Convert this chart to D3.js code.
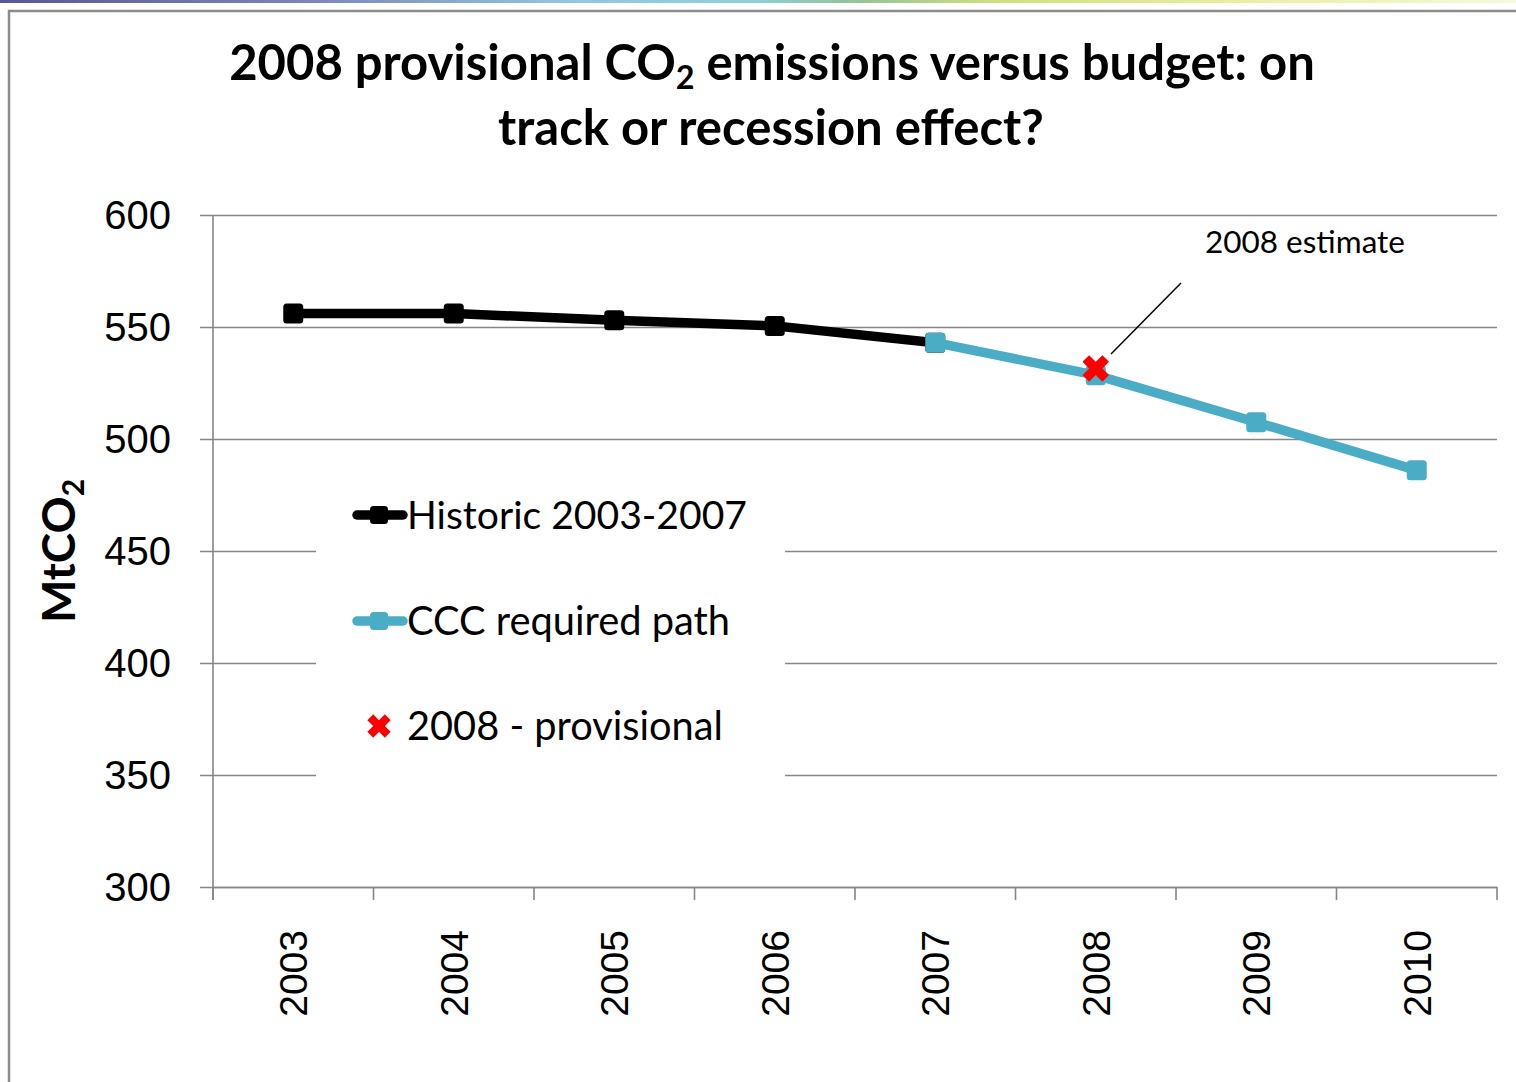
<!DOCTYPE html>
<html>
<head>
<meta charset="utf-8">
<script src="https://cdn.jsdelivr.net/npm/d3@7"></script>
<style>
  html, body { margin: 0; padding: 0; background: #ffffff; }
  svg { display: block; }
</style>
</head>
<body>
<svg id="chart" width="1516" height="1082"></svg>
<script>
// UK CO2 emissions (MtCO2): history, required path and 2008 provisional figure
const years = ["2003", "2004", "2005", "2006", "2007", "2008", "2009", "2010"];
const historicYears = ["2003", "2004", "2005", "2006", "2007"];
const historicValues = [556, 556, 553, 550.5, 543];
const requiredYears = ["2007", "2008", "2009", "2010"];
const requiredValues = [543, 528.5, 507.5, 486];
const provisionalYears = ["2008"];
const provisionalValues = [531.5];
const yTicks = [300, 350, 400, 450, 500, 550, 600];
const seriesNames = ["Historic 2003-2007", "CCC required path", "2008 - provisional"];
const annotationText = "2008 estimate";

const svg = d3.select("#chart");
const W = 1516, H = 1082;
const plot = { left: 213, right: 1497, top: 215, bottom: 887 };
const bodyFont = "Lato, 'Open Sans', sans-serif";
const axisFont = "'Liberation Sans', Arial, sans-serif";
const black = "#000000", blue = "#4bacc6", red = "#ff0000", grid = "#868686";

// scale a text element so that its rendered width equals the target width
function fitWidth(sel, target) {
  const size = parseFloat(sel.attr("font-size"));
  const w = sel.node().getComputedTextLength();
  sel.attr("font-size", (size * target / w).toFixed(2));
}

// decorative colour strip across the very top
const defs = svg.append("defs");
const strip = defs.append("linearGradient").attr("id", "strip").attr("x1", 0).attr("x2", 1);
[[0, "#57579a"], [0.2, "#7c84b8"], [0.38, "#93c6e6"], [0.5, "#8fcfd6"], [0.56, "#94c39a"],
 [0.66, "#cfe07e"], [0.8, "#e6ee9c"], [1, "#f6f9dc"]].forEach(([o, c]) =>
  strip.append("stop").attr("offset", o).attr("stop-color", c));
svg.append("rect").attr("x", 0).attr("y", 0).attr("width", W).attr("height", 3).attr("fill", "url(#strip)");

// chart frame (runs off the right and bottom edges)
svg.append("path")
  .attr("d", `M9,${H + 5}V11H${W + 5}`)
  .attr("fill", "none").attr("stroke", "#8c8c8c").attr("stroke-width", 2.5);

// scales
const x = d3.scaleBand().domain(years).range([plot.left, plot.right]).padding(0);
const y = d3.scaleLinear().domain([300, 600]).range([plot.bottom, plot.top]);
const cx = d => x(d) + x.bandwidth() / 2;

// horizontal gridlines with outward ticks
const yAxis = d3.axisLeft(y).tickValues(yTicks).tickSize(-(plot.right - plot.left)).tickSizeOuter(0).tickFormat("");
const gy = svg.append("g").attr("transform", `translate(${plot.left},0)`).call(yAxis);
gy.select(".domain").remove();
gy.selectAll(".tick line").attr("stroke", grid).attr("stroke-width", 1.6).attr("x1", -13);

// tick labels on the value axis
svg.append("g").selectAll("text").data(yTicks).join("text")
  .attr("x", 171).attr("y", d => y(d)).attr("dy", "0.36em")
  .attr("text-anchor", "end")
  .attr("font-family", axisFont).attr("font-size", 40).attr("fill", "#000")
  .text(d => d);

// vertical axis line
svg.append("line")
  .attr("x1", plot.left).attr("x2", plot.left).attr("y1", plot.top).attr("y2", plot.bottom + 13)
  .attr("stroke", grid).attr("stroke-width", 1.6);

// category axis: ticks on band boundaries, rotated year labels
const xAxis = d3.axisBottom(x).tickSize(0).tickSizeOuter(0).tickFormat("");
const gx = svg.append("g").attr("transform", `translate(0,${plot.bottom})`).call(xAxis);
gx.select(".domain").attr("stroke", grid).attr("stroke-width", 1.6);
gx.selectAll(".tick").remove();
const bounds = years.map(d => x(d)).concat([plot.right]);
gx.selectAll("line.bound").data(bounds).join("line").attr("class", "bound")
  .attr("x1", d => d).attr("x2", d => d).attr("y1", 0).attr("y2", 13)
  .attr("stroke", grid).attr("stroke-width", 1.6);

svg.append("g").selectAll("text").data(years).join("text")
  .attr("transform", d => `translate(${cx(d)},930) rotate(-90)`)
  .attr("text-anchor", "end").attr("dy", "0.36em")
  .attr("font-family", axisFont).attr("font-size", 39).attr("fill", "#000")
  .text(d => d);

// axis title
const yTitle = svg.append("text")
  .attr("transform", "translate(75,551) rotate(-90)")
  .attr("text-anchor", "middle")
  .attr("font-family", bodyFont).attr("font-weight", "bold").attr("font-size", 46).attr("fill", "#000");
yTitle.append("tspan").text("MtCO");
yTitle.append("tspan").attr("font-size", 30).attr("dy", 9).text("2");

// chart title (two lines)
const t1 = svg.append("text")
  .attr("x", 772).attr("y", 80).attr("text-anchor", "middle")
  .attr("font-family", bodyFont).attr("font-weight", "bold").attr("font-size", 46).attr("fill", "#000");
t1.append("tspan").text("2008 provisional CO");
t1.append("tspan").attr("dy", 9).attr("font-size", "0.66em").text("2");
t1.append("tspan").attr("dy", -9).text(" emissions versus budget: on");
fitWidth(t1, 1086);
const t2 = svg.append("text")
  .attr("x", 771).attr("y", 145).attr("text-anchor", "middle")
  .attr("font-family", bodyFont).attr("font-weight", "bold").attr("font-size", 46).attr("fill", "#000")
  .text("track or recession effect?");
fitWidth(t2, 546);

// series lines
const line = d3.line().x(d => cx(d.year)).y(d => y(d.value));
const historic = historicYears.map((yr, i) => ({ year: yr, value: historicValues[i] }));
const required = requiredYears.map((yr, i) => ({ year: yr, value: requiredValues[i] }));
const provisional = provisionalYears.map((yr, i) => ({ year: yr, value: provisionalValues[i] }));

function drawSeries(data, color) {
  svg.append("path").datum(data).attr("d", line)
    .attr("fill", "none").attr("stroke", color).attr("stroke-width", 9.5).attr("stroke-linejoin", "round");
  svg.append("g").selectAll("rect").data(data).join("rect")
    .attr("x", d => cx(d.year) - 10).attr("y", d => y(d.value) - 10)
    .attr("width", 20).attr("height", 20).attr("rx", 3.5)
    .attr("fill", color);
}
drawSeries(historic, black);
drawSeries(required, blue);

const xMark = d3.symbol().type(d3.symbolCross);
svg.append("g").selectAll("path").data(provisional).join("path")
  .attr("d", xMark.size(440)())
  .attr("transform", d => `translate(${cx(d.year)},${y(d.value)}) rotate(45)`)
  .attr("fill", red);

// annotation with leader line
svg.append("line")
  .attr("x1", 1181).attr("y1", 283).attr("x2", 1111).attr("y2", 354)
  .attr("stroke", "#000").attr("stroke-width", 1.5);
const ann = svg.append("text")
  .attr("x", 1205).attr("y", 253)
  .attr("font-family", bodyFont).attr("font-size", 30).attr("fill", "#000")
  .text(annotationText);
fitWidth(ann, 200);

// legend on a white panel over the gridlines
const legend = svg.append("g");
legend.append("rect").attr("x", 316).attr("y", 478).attr("width", 469).attr("height", 300).attr("fill", "#fff");
const legendRows = [
  { name: seriesNames[0], color: black, kind: "line", cy: 515 },
  { name: seriesNames[1], color: blue, kind: "line", cy: 621 },
  { name: seriesNames[2], color: red, kind: "x", cy: 726 }
];
legendRows.forEach(r => {
  if (r.kind === "line") {
    legend.append("line").attr("x1", 357).attr("x2", 403).attr("y1", r.cy).attr("y2", r.cy)
      .attr("stroke", r.color).attr("stroke-width", 9.5).attr("stroke-linecap", "round");
    legend.append("rect").attr("x", 370).attr("y", r.cy - 9).attr("width", 18).attr("height", 18)
      .attr("rx", 3.5).attr("fill", r.color);
  } else {
    legend.append("path").attr("d", xMark.size(340)())
      .attr("transform", `translate(379,${r.cy}) rotate(45)`).attr("fill", r.color);
  }
  const tx = legend.append("text").attr("x", 407).attr("y", r.cy).attr("dy", "0.36em")
    .attr("font-family", bodyFont).attr("font-size", 38).attr("fill", "#000").text(r.name);
  if (r.name === seriesNames[0]) fitWidth(tx, 340);
  if (r.name === seriesNames[1]) fitWidth(tx, 323);
  if (r.name === seriesNames[2]) fitWidth(tx, 316);
});
</script>
</body>
</html>
